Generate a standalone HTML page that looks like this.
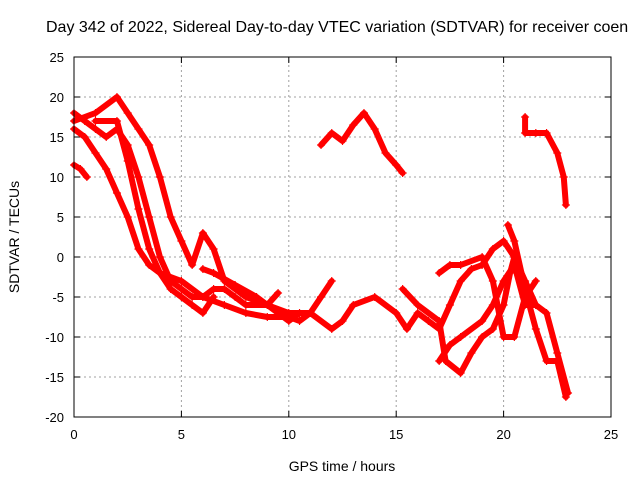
<!DOCTYPE html>
<html><head><meta charset="utf-8"><style>
body{margin:0;background:#fff;overflow:hidden;}
svg{display:block;font-family:"Liberation Sans",sans-serif;}
</style></head><body>
<svg id="chart" width="640" height="480">
<text x="46" y="32" font-size="16" fill="#000">Day 342 of 2022, Sidereal Day-to-day VTEC variation (SDTVAR) for receiver coen</text>
<text x="342" y="471" font-size="14" text-anchor="middle">GPS time / hours</text>
<text transform="translate(19,237) rotate(-90)" font-size="14" text-anchor="middle">SDTVAR / TECUs</text>
<g id="grid"></g><g id="ticks"></g><g id="series"></g>
<rect x="74" y="57" width="537" height="360" fill="none" stroke="#000" stroke-width="1"/>
</svg>
<script>
const xTicks=[0,5,10,15,20,25];
const yTicks=[25,20,15,10,5,0,-5,-10,-15,-20];
const trackA=[[0,11.5],[0.3,11],[0.6,10]];
const trackB=[[0,18],[0.5,17],[1,16],[1.5,15],[2,16],[2.5,14],[3,10],[3.5,5],[4,0],[4.5,-3],[5,-4],[5.5,-5],[6,-5],[6.5,-4],[7,-4],[7.5,-5],[8,-6],[9,-6],[9.5,-4.5]];
const trackC=[[0,17],[1,18],[2,20],[2.5,18],[3,16],[3.5,14],[4,10],[4.5,5],[5,2],[5.5,-1],[6,3],[6.5,1],[7,-3],[8,-5],[9,-6],[10,-7],[11,-7],[11.5,-5],[12,-3]];
const trackD=[[0,16],[0.5,15],[1,13],[1.5,11],[2,8],[2.5,5],[3,1],[3.5,-1],[4,-2],[4.5,-4],[5,-5],[5.5,-6],[6,-7],[6.5,-5]];
const trackE=[[1,17],[2,17],[2.5,12],[3,6],[3.5,1],[4,-2],[5,-3],[6,-5],[7,-6],[8,-7],[9,-7.5],[10,-7.5],[10.5,-8],[11,-7],[12,-9],[12.5,-8],[13,-6],[14,-5],[15,-7],[15.5,-9],[16,-7],[16.5,-8],[17,-9],[17.5,-6],[18,-3],[18.5,-1.5],[19,-1],[19.5,1],[20,2],[20.5,0]];
const trackF=[[11.5,14],[12,15.5],[12.5,14.5],[13,16.5],[13.5,18],[14,16],[14.5,13],[15,11.5],[15.3,10.5]];
const trackG=[[21,17.5],[21,15.5],[21.5,15.5],[22,15.5],[22.5,13],[22.8,10],[22.9,6.5]];
const trackH=[[6,-1.5],[6.5,-2],[7.5,-3.5],[8.5,-5],[9.5,-7],[10,-8],[10.5,-7]];
const trackI=[[15.3,-4],[16,-6],[17,-8],[17.3,-13],[18,-14.5],[18.5,-12],[19,-10],[19.5,-9],[20,-6],[20.3,-2],[20.5,0],[21,-3],[21.5,-6],[22,-7],[22.5,-12],[23,-17]];
const trackJ=[[17,-13],[17.5,-11],[18,-10],[19,-8],[19.5,-6],[20,-3],[20.5,-1],[21,-6],[21.5,-6]];
const trackK=[[17,-2],[17.5,-1],[18,-1],[19,0],[19.5,-3],[20,-10],[20.5,-10],[21,-5],[21.5,-3]];
const trackL=[[20.2,4],[20.5,2],[21,-4],[21.5,-9],[22,-13],[22.5,-13],[22.9,-17.5]];
const tracks=[trackA,trackB,trackC,trackD,trackE,trackF,trackG,trackH,trackI,trackJ,trackK,trackL];
const NS="http://www.w3.org/2000/svg";
const X0=74,X1=611,Y0=417,Y1=57;
const xs=v=>X0+(v-0)/25*(X1-X0);
const ys=v=>Y0-(v+20)/45*(Y0-Y1);
const grid=document.getElementById('grid'),ticks=document.getElementById('ticks'),ser=document.getElementById('series');
function mk(t,a,p){const e=document.createElementNS(NS,t);for(const k in a)e.setAttribute(k,a[k]);p.appendChild(e);return e;}
xTicks.forEach(v=>{const x=xs(v);
 if(v>0&&v<25){const g=mk('line',{x1:x,x2:x,y1:Y0,y2:Y1,stroke:'#a0a0a0','stroke-dasharray':'2,3'},grid);
 
 }
 const t=mk('text',{x:x,y:Y0+22,'font-size':13,'text-anchor':'middle'},ticks);t.textContent=v;
 
 
 mk('line',{x1:x,x2:x,y1:Y0,y2:Y0-6,stroke:'#000'},ticks);mk('line',{x1:x,x2:x,y1:Y1,y2:Y1+6,stroke:'#000'},ticks);});
yTicks.forEach(v=>{const y=ys(v);
 if(v>-20&&v<25){const g=mk('line',{x1:X0,x2:X1,y1:y,y2:y,stroke:'#a0a0a0','stroke-dasharray':'2,3'},grid);
 
 }
 const t=mk('text',{x:X0-10,y:y+5,'font-size':13,'text-anchor':'end'},ticks);t.textContent=v;
 
 
 mk('line',{x1:X0,x2:X0+6,y1:y,y2:y,stroke:'#000'},ticks);mk('line',{x1:X1,x2:X1-6,y1:y,y2:y,stroke:'#000'},ticks);});
tracks.forEach((tr,i)=>{
 const p=mk('polyline',{points:tr.map(d=>xs(d[0])+','+ys(d[1])).join(' '),fill:'none',stroke:'#ff0000','stroke-width':6,'stroke-linejoin':'round','stroke-linecap':'round'},ser);
 
 
 tr.forEach(d=>{const x=xs(d[0]),y=ys(d[1]);
  const m=mk('path',{d:`M${x-4},${y}H${x+4}M${x},${y-4}V${y+4}`,stroke:'#ff0000','stroke-width':1.2},ser);
  
  });
});
</script>
</body></html>
